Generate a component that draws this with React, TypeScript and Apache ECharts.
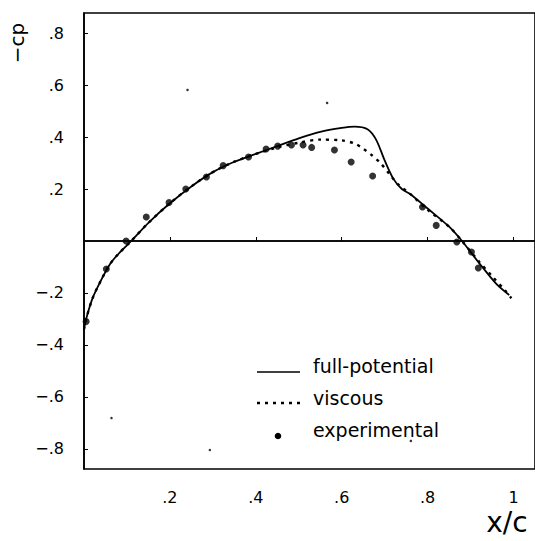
import React, { useEffect, useRef } from "react";
import * as echarts from "echarts";

// full-potential solution (solid)
const fullX = [0, 0.005, 0.02, 0.04, 0.06, 0.08, 0.11, 0.15, 0.2, 0.25, 0.3, 0.35, 0.4, 0.45, 0.5, 0.55, 0.6, 0.63, 0.66, 0.68, 0.7, 0.72, 0.74, 0.76, 0.8, 0.85, 0.88, 0.92, 0.96, 0.99];
const fullY = [-0.34, -0.3, -0.22, -0.15, -0.09, -0.05, 0.0, 0.07, 0.145, 0.21, 0.265, 0.305, 0.335, 0.365, 0.395, 0.42, 0.435, 0.44, 0.43, 0.39, 0.31, 0.24, 0.2, 0.18, 0.125, 0.055, 0.0, -0.085, -0.165, -0.208];

// viscous solution (dotted)
const viscX = [0, 0.005, 0.02, 0.04, 0.06, 0.08, 0.11, 0.15, 0.2, 0.25, 0.3, 0.35, 0.4, 0.45, 0.5, 0.55, 0.6, 0.63, 0.65, 0.67, 0.69, 0.71, 0.73, 0.76, 0.8, 0.85, 0.88, 0.92, 0.95, 0.98, 0.995];
const viscY = [-0.34, -0.3, -0.22, -0.15, -0.09, -0.05, 0.0, 0.07, 0.145, 0.21, 0.265, 0.305, 0.335, 0.36, 0.378, 0.39, 0.387, 0.375, 0.355, 0.33, 0.3, 0.26, 0.22, 0.18, 0.12, 0.055, 0.0, -0.08, -0.135, -0.19, -0.22];

// experimental points
const expX = [0.005, 0.052, 0.098, 0.145, 0.198, 0.237, 0.285, 0.324, 0.383, 0.424, 0.451, 0.483, 0.51, 0.53, 0.583, 0.622, 0.672, 0.788, 0.82, 0.868, 0.902, 0.918];
const expY = [-0.31, -0.108, 0.0, 0.092, 0.148, 0.2, 0.246, 0.29, 0.323, 0.354, 0.365, 0.369, 0.369, 0.36, 0.35, 0.304, 0.25, 0.131, 0.06, -0.004, -0.042, -0.104];

// stray specks of the scanned original
const speckX = [0.241, 0.566, 0.064, 0.293, 0.761];
const speckY = [0.581, 0.531, -0.681, -0.804, -0.769];

const xTickValues = [0.2, 0.4, 0.6, 0.8, 1.0];
const xTickLabels = [".2", ".4", ".6", ".8", "1"];
const yTickValues = [-0.8, -0.6, -0.4, -0.2, 0.2, 0.4, 0.6, 0.8];
const yTickLabels = ["\u2212.8", "\u2212.6", "\u2212.4", "\u2212.2", ".2", ".4", ".6", ".8"];

const seriesNames = ["full-potential", "viscous", "experimental"];

const FONT = "DejaVu Sans";

function zip(xs: number[], ys: number[]) {
  return xs.map((x, i) => [x, ys[i]]);
}

function lookup(values: number[], labels: string[], v: number) {
  for (let i = 0; i < values.length; i++) {
    if (Math.abs(values[i] - v) < 1e-6) return labels[i];
  }
  return "";
}

export default function App() {
  const ref = useRef<HTMLDivElement>(null);

  useEffect(() => {
    if (!ref.current) return;
    const chart = echarts.init(ref.current, undefined, { renderer: "svg" });
    chart.setOption({
      animation: false,
      backgroundColor: "#ffffff",
      grid: {
        left: 84,
        top: 13,
        right: -11,
        bottom: 72,
        show: true,
        borderColor: "#000",
        borderWidth: 1.6,
        backgroundColor: "transparent",
      },
      xAxis: {
        type: "value",
        min: 0,
        max: 1.05,
        splitLine: { show: false },
        axisLine: { show: true, lineStyle: { color: "#000", width: 1.6 } },
        axisTick: {
          show: true,
          inside: true,
          length: 4,
          customValues: xTickValues,
          lineStyle: { color: "#000", width: 1 },
        },
        axisLabel: {
          customValues: xTickValues,
          formatter: (v: number) => lookup(xTickValues, xTickLabels, v),
          fontFamily: FONT,
          fontSize: 16,
          color: "#000",
          margin: 20,
        },
      },
      yAxis: {
        type: "value",
        min: -0.877,
        max: 0.877,
        splitLine: { show: false },
        axisLine: { show: true, onZero: false, lineStyle: { color: "#000", width: 1.6 } },
        axisTick: {
          show: true,
          inside: true,
          length: 4,
          customValues: yTickValues,
          lineStyle: { color: "#000", width: 1 },
        },
        axisLabel: {
          customValues: yTickValues,
          formatter: (v: number) => lookup(yTickValues, yTickLabels, v),
          fontFamily: FONT,
          fontSize: 16,
          color: "#000",
          margin: 20,
        },
      },
      series: [
        {
          name: seriesNames[0],
          type: "line",
          data: zip(fullX, fullY),
          symbol: "none",
          smooth: 0.3,
          lineStyle: { color: "#000", width: 1.8, type: "solid" },
          markLine: {
            silent: true,
            symbol: "none",
            label: { show: false },
            lineStyle: { color: "#000", width: 1.6, type: "solid" },
            data: [{ yAxis: 0 }],
          },
          z: 3,
        },
        {
          name: seriesNames[1],
          type: "line",
          data: zip(viscX, viscY),
          symbol: "none",
          smooth: 0.3,
          lineStyle: { color: "#000", width: 2.4, type: [3, 5] },
          z: 2,
        },
        {
          name: seriesNames[2],
          type: "scatter",
          data: zip(expX, expY),
          symbol: "circle",
          symbolSize: 7,
          itemStyle: { color: "#000" },
          z: 4,
        },
        {
          name: "specks",
          type: "scatter",
          data: zip(speckX, speckY),
          symbol: "circle",
          symbolSize: 2.5,
          itemStyle: { color: "#000" },
          silent: true,
        },
      ],
      graphic: [
        // legend
        { type: "line", shape: { x1: 257, y1: 372, x2: 300, y2: 372 }, style: { stroke: "#000", lineWidth: 1.6 } },
        { type: "text", x: 313, y: 366, style: { text: seriesNames[0], font: `19px '${FONT}'`, fill: "#000", verticalAlign: "middle", align: "left" } },
        { type: "line", shape: { x1: 257, y1: 403, x2: 300, y2: 403 }, style: { stroke: "#000", lineWidth: 2.4, lineDash: [3, 5] } },
        { type: "text", x: 313, y: 398, style: { text: seriesNames[1], font: `19px '${FONT}'`, fill: "#000", verticalAlign: "middle", align: "left" } },
        { type: "circle", shape: { cx: 278, cy: 436, r: 3.3 }, style: { fill: "#000" } },
        { type: "text", x: 313, y: 430, style: { text: seriesNames[2], font: `19px '${FONT}'`, fill: "#000", verticalAlign: "middle", align: "left" } },
        // axis titles
        { type: "text", x: 17, y: 43, rotation: Math.PI / 2, style: { text: "\u2212cp", font: `20px '${FONT}'`, fill: "#000", align: "center", verticalAlign: "middle" } },
        { type: "text", x: 507, y: 522, style: { text: "x/c", font: `28px '${FONT}'`, fill: "#000", align: "center", verticalAlign: "middle" } },
      ],
    });
    return () => chart.dispose();
  }, []);

  return (
    <div
      ref={ref}
      style={{ position: "absolute", left: 0, top: 0, width: 535, height: 541, background: "#fff" }}
    />
  );
}
